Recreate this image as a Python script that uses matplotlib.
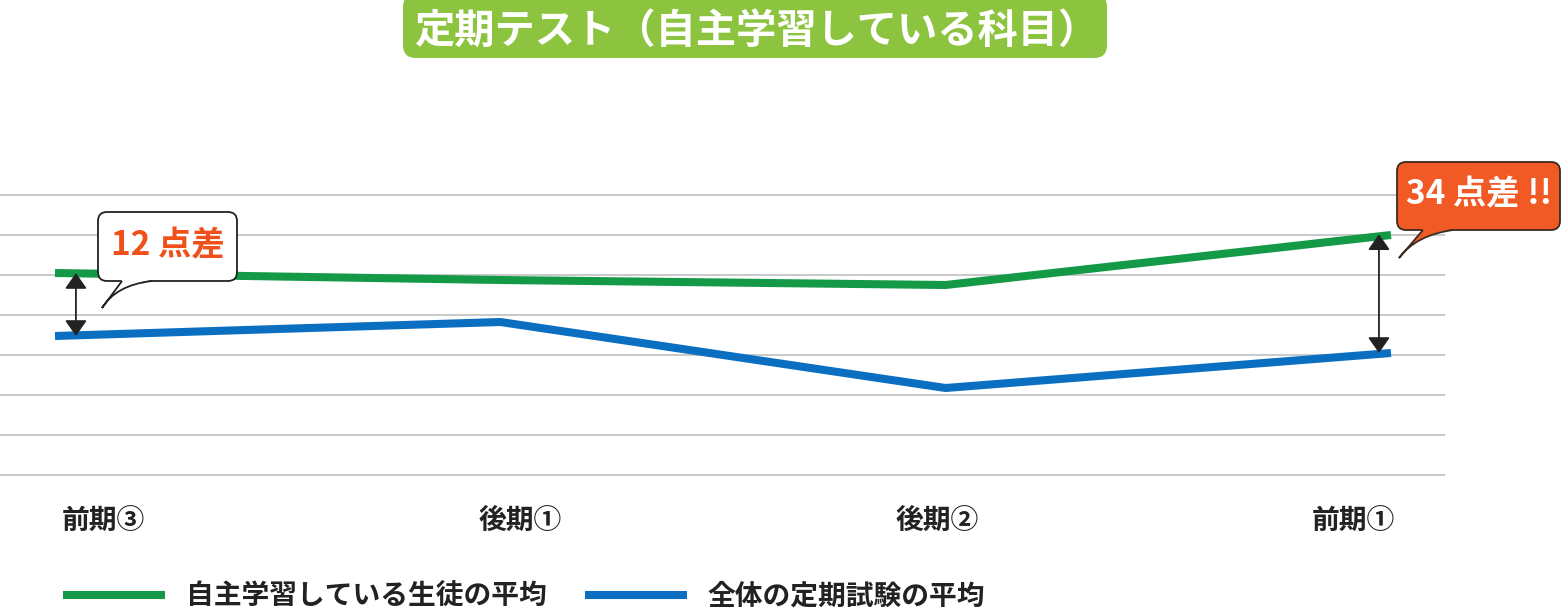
import matplotlib
matplotlib.use('Agg')
import matplotlib.pyplot as plt
import matplotlib.transforms as mtransforms
from matplotlib.patches import FancyBboxPatch, PathPatch
from matplotlib.path import Path

plt.rcParams['font.family'] = ['Noto Sans CJK JP', 'DejaVu Sans']

# data
terms = ['前期③', '後期①', '後期②', '前期①']
self_study = [50.5, 48.75, 47.5, 60.0]
overall = [34.75, 38.25, 21.75, 30.5]
series_names = ['自主学習している生徒の平均', '全体の定期試験の平均']
title = '定期テスト（自主学習している科目）'
gap_first = '12 点差'
gap_last = '34 点差 !!'

GREEN = '#149a46'
BLUE = '#0a6fc1'
W, H, DPI = 1562, 610, 100

fig = plt.figure(figsize=(W / DPI, H / DPI), dpi=DPI)
# pixel coords with the origin at the top left
px = mtransforms.Affine2D().scale(1 / DPI, -1 / DPI).translate(0, H / DPI) + fig.dpi_scale_trans

ax = fig.add_axes([0, 1 - 483 / H, 1445 / W, 296 / H])
x = list(range(len(terms)))
l1, = ax.plot(x, self_study, color=GREEN, lw=5.8, solid_capstyle='butt', zorder=3)
l2, = ax.plot(x, overall, color=BLUE, lw=5.8, solid_capstyle='butt', zorder=3)
ax.set_xlim(-0.1235, 3.1213)
ax.set_ylim(-2, 72)
ax.set_yticks(range(0, 80, 10))
ax.tick_params(axis='y', length=0, labelleft=False)
ax.grid(axis='y', color='#c9c9c9', lw=1.4)
ax.set_axisbelow(True)
for s in ax.spines.values():
    s.set_visible(False)

# tick labels sit a bit off the points in the original
ax.set_xticks([0.108 + 0.936 * i for i in x])
ax.set_xticklabels(terms, fontsize=20, fontweight='bold', color='#222222')
ax.tick_params(axis='x', length=0, pad=17)

# difference arrows
arrow = dict(arrowstyle='<|-|>,head_length=0.6,head_width=0.42', color='#222222',
             lw=1.3, shrinkA=0, shrinkB=0, mutation_scale=16)
ax.annotate('', xy=(0.047, overall[0]), xytext=(0.047, self_study[0]), arrowprops=arrow)
ax.annotate('', xy=(2.973, overall[3]), xytext=(2.973, self_study[3] + 0.2), arrowprops=arrow)


def callout(x0, y0, w, h, base_l, tip, base_r, ctrl, face, edge, text, tcolor):
    box = FancyBboxPatch((x0, y0), w, h, boxstyle='round,pad=0,rounding_size=9',
                         transform=px, facecolor=face, edgecolor=edge, lw=1.3, zorder=5)
    fig.add_artist(box)
    verts = [base_l, tip, ctrl, base_r, base_l]
    codes = [Path.MOVETO, Path.LINETO, Path.CURVE3, Path.CURVE3, Path.CLOSEPOLY]
    fig.add_artist(PathPatch(Path(verts, codes), transform=px, facecolor=face,
                             edgecolor='none', zorder=6))
    edge_path = Path([(base_l[0], base_l[1] + 1), tip, ctrl, (base_r[0], base_r[1] + 1)],
                     [Path.MOVETO, Path.LINETO, Path.CURVE3, Path.CURVE3])
    fig.add_artist(PathPatch(edge_path, transform=px, facecolor='none',
                             edgecolor=edge, lw=1.3, zorder=7))
    fig.text(x0 + w / 2, y0 + h / 2 - 1, text, transform=px, ha='center', va='center',
             fontsize=24, fontweight='bold', color=tcolor, zorder=8)


callout(98, 212, 139, 69, (122, 280), (102, 308), (152, 280), (116, 285),
        'white', '#222222', gap_first, '#f0501a')
callout(1397, 162, 163, 68, (1423, 229), (1399, 258), (1453, 229), (1416, 235),
        '#f15a24', '#3b2a22', gap_last, 'white')

# title
fig.add_artist(FancyBboxPatch((403, -6), 704, 64, boxstyle='round,pad=0,rounding_size=13',
                              transform=px, facecolor='#8cc43f', edgecolor='none'))
fig.text(756, 31, title, transform=px, ha='center', va='center',
         fontsize=29, fontweight='bold', color='white')

fig.legend([l1, l2], series_names, loc='center left', bbox_to_anchor=(63 / W, 1 - 597 / H),
           ncol=2, frameon=False, prop={'weight': 'bold', 'size': 20},
           handlelength=3.67, handletextpad=0.75, columnspacing=1.37,
           borderpad=0, borderaxespad=0)
for t in fig.legends[0].get_texts():
    t.set_color('#222222')

fig.savefig('out.png', dpi=DPI)
